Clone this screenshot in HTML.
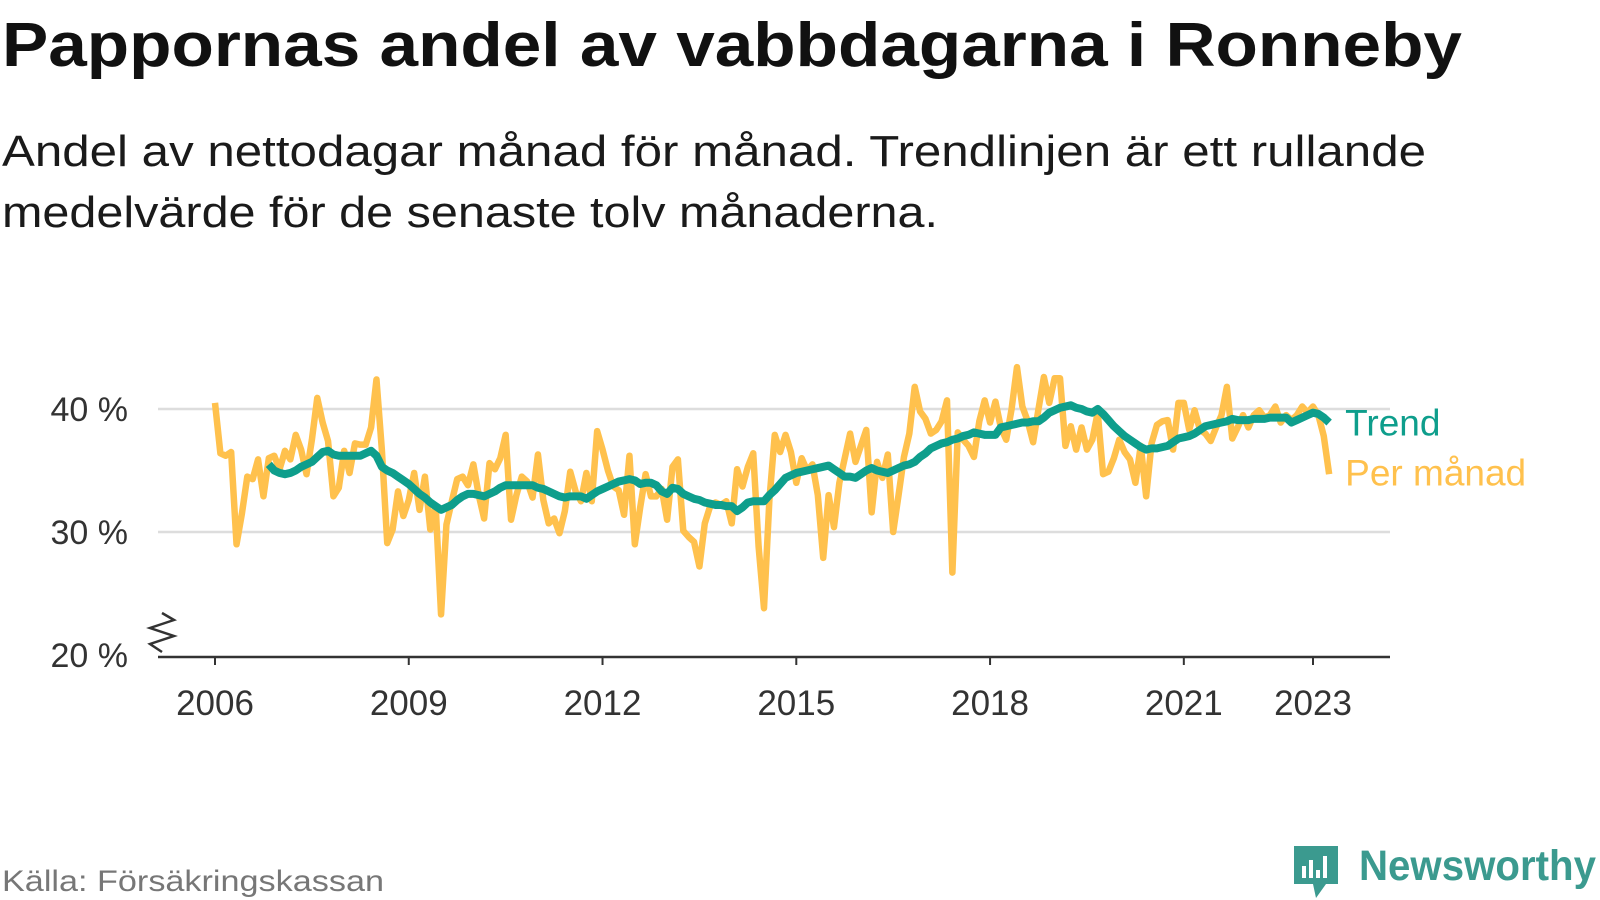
<!DOCTYPE html>
<html><head><meta charset="utf-8"><style>
html,body{margin:0;padding:0;background:#fff;width:1600px;height:900px;overflow:hidden}
svg{display:block;font-family:"Liberation Sans",sans-serif}
</style></head><body>
<svg id="chart" width="1600" height="900" viewBox="0 0 1600 900">
<text x="2" y="66" font-size="62" font-weight="bold" fill="#111" textLength="1460" lengthAdjust="spacingAndGlyphs">Pappornas andel av vabbdagarna i Ronneby</text>
<text x="2" y="166" font-size="44" fill="#1a1a1a" textLength="1424" lengthAdjust="spacingAndGlyphs">Andel av nettodagar månad för månad. Trendlinjen är ett rullande</text>
<text x="2" y="227" font-size="44" fill="#1a1a1a" textLength="936" lengthAdjust="spacingAndGlyphs">medelvärde för de senaste tolv månaderna.</text>
<g id="grid"></g><g id="axes"></g><g id="series"></g>
<text x="2" y="891" font-size="30" fill="#777" textLength="382" lengthAdjust="spacingAndGlyphs">Källa: Försäkringskassan</text>
<g>
<path d="M1294 846 h44 v38 h-12 l-10 14 l-3 -14 h-19 z" fill="#3b9a8f"/>
<rect x="1302" y="866" width="4" height="12" fill="#fff"/><rect x="1309" y="860" width="4" height="18" fill="#fff"/><rect x="1316" y="870" width="4" height="8" fill="#fff"/><rect x="1323" y="856" width="4" height="22" fill="#fff"/>
<text x="1359" y="880" font-size="43" font-weight="bold" fill="#3b9a8f" textLength="237" lengthAdjust="spacingAndGlyphs">Newsworthy</text>
</g>
</svg>
<script>
const monthly = [
40.5,36.4,36.2,36.5,29,31.5,34.5,34.3,35.9,32.9,36,36.2,
35.1,36.6,35.9,37.9,36.7,34.7,37.5,40.9,38.9,37.4,32.9,33.6,
36.6,34.8,37.2,37.1,37.1,38.5,42.4,36.7,29.1,30.2,33.3,31.3,
32.6,34.8,31.8,34.5,30.2,32.1,23.3,30.6,32.5,34.3,34.5,33.8,
35.5,33,31.1,35.6,35.1,36,37.9,31,33,34.5,34.1,32.8,
36.3,32.6,30.7,31.1,29.9,31.7,34.9,33.3,32.5,34.8,32.5,38.2,
36.7,35,33.7,33.4,31.4,36.2,29,32,34.7,32.9,32.9,33.5,
31,35.3,35.9,30.1,29.6,29.2,27.2,30.7,32.1,32.4,32.2,32.5,
30.7,35.1,33.7,35.3,36.4,28.8,23.8,32.6,37.9,36.5,37.9,36.5,
34,36,35,35.5,33,27.9,33,30.4,34,36,38,35.7,
37,38.3,31.6,35.7,34.4,36.3,30,33,36.1,38,41.8,39.8,
39.2,38,38.3,39,40.7,26.7,38.1,37.5,37,36.1,39,40.7,
38.9,40.6,38.5,37.5,40,43.4,40.2,39,37.3,40,42.6,40.5,
42.5,42.5,37,38.6,36.7,38.5,36.7,37.5,39.7,34.7,34.9,36,
37.5,36.5,35.9,34,37,32.9,37.2,38.7,39,39.1,36.7,40.5,
40.5,38.3,39.9,38.3,38,37.4,38.5,39.5,41.8,37.6,38.5,39.5,
38.5,39.5,39.9,39.3,39.5,40.2,38.9,39.5,39.1,39.5,40.2,39.7,
40.2,39.5,37.8,34.7];
const trendStart = 10;
const trend = [
35.5,35.0,34.8,34.7,34.8,35.0,35.3,35.5,35.7,36.1,36.5,36.6,36.3,36.2,
36.2,36.2,36.2,36.2,36.4,36.6,36.2,35.3,35.0,34.8,34.5,34.2,
33.9,33.5,33.1,32.8,32.4,32.1,31.8,32.0,32.2,32.6,32.9,33.1,
33.1,33.0,32.9,33.1,33.3,33.6,33.8,33.8,33.8,33.8,33.8,33.8,
33.6,33.5,33.3,33.1,32.9,32.8,32.9,32.9,32.9,32.7,33.0,33.3,
33.5,33.7,33.9,34.1,34.2,34.3,34.2,33.9,34.0,34.0,33.8,33.3,
33.1,33.6,33.5,33.1,32.9,32.7,32.6,32.4,32.3,32.2,32.2,32.1,
32.1,31.7,32.0,32.4,32.5,32.5,32.5,33.0,33.4,33.9,34.4,34.6,
34.8,34.9,35.0,35.1,35.2,35.3,35.4,35.1,34.8,34.5,34.5,34.4,
34.7,35.0,35.2,35.0,34.9,34.8,35.0,35.2,35.4,35.5,35.7,36.1,
36.4,36.8,37.0,37.2,37.3,37.5,37.6,37.8,37.9,38.1,38.0,37.9,
37.9,37.9,38.5,38.6,38.7,38.8,38.9,38.9,39.0,39.0,39.3,39.7,
39.9,40.1,40.2,40.3,40.1,40.0,39.8,39.7,40.0,39.6,39.1,38.6,
38.2,37.8,37.5,37.2,36.9,36.7,36.8,36.8,36.9,37.0,37.3,37.6,
37.7,37.8,38.0,38.3,38.6,38.7,38.8,38.9,39.0,39.2,39.1,39.1,
39.1,39.2,39.2,39.2,39.3,39.3,39.3,39.3,38.9,39.1,39.3,39.5,
39.7,39.6,39.3,38.9];
const yTicks = [20,30,40];
const yTickLabels = ["20 %","30 %","40 %"];
const xTicks = [2006,2009,2012,2015,2018,2021,2023];

const NS = "http://www.w3.org/2000/svg";
const X0 = 215, PXY = (1313-215)/17;
const xMonth = m => X0 + m * PXY / 12;
const xYear = yr => X0 + (yr-2006) * PXY;
const yVal = v => 532 - (v-30) * 12.3;
function mk(tag, attrs, parent){const e=document.createElementNS(NS,tag);for(const k in attrs)e.setAttribute(k,attrs[k]);parent.appendChild(e);return e;}
const grid=document.getElementById('grid'), axes=document.getElementById('axes'), series=document.getElementById('series');
yTicks.forEach((t,i)=>{
  if(t>20){const g=mk('line',{x1:158,x2:1390,y1:yVal(t),y2:yVal(t),stroke:'#ddd','stroke-width':2.5},grid);
  
  }
  const l=mk('text',{x:128,y:yVal(t)+12,'font-size':34,fill:'#333','text-anchor':'end'},axes);
  l.textContent=yTickLabels[i];
  
  
});
const ax=mk('line',{x1:158,x2:1390,y1:657,y2:657,stroke:'#333','stroke-width':2.5},axes);


const br=mk('path',{d:'M162 613 L174 620 L150 628 L174 636 L150 644 L162 652',fill:'none',stroke:'#333','stroke-width':2.5},axes);


xTicks.forEach(yr=>{
  const x=xYear(yr);
  mk('line',{x1:x,x2:x,y1:657,y2:665,stroke:'#333','stroke-width':2},axes);
  const t=mk('text',{x:x,y:715,'font-size':35,fill:'#333','text-anchor':'middle'},axes);
  t.textContent=yr;
  
  
});
const pm=mk('polyline',{points:monthly.map((v,i)=>xMonth(i)+','+yVal(v)).join(' '),fill:'none',stroke:'#FFC14D','stroke-width':6.5,'stroke-linejoin':'round'},series);


const tr=mk('polyline',{points:trend.map((v,i)=>xMonth(i+trendStart)+','+yVal(v)).join(' '),fill:'none',stroke:'#0E9E8C','stroke-width':8,'stroke-linejoin':'round'},series);


const lx = xMonth(monthly.length-1)+16;
const l1=mk('text',{x:lx,y:yVal(trend[trend.length-1])+13,'font-size':37,fill:'#0E9E8C'},series);
l1.textContent='Trend';


const l2=mk('text',{x:lx,y:yVal(trend[trend.length-1])+63,'font-size':37,fill:'#FFC14D'},series);
l2.textContent='Per månad';


</script>
</body></html>
